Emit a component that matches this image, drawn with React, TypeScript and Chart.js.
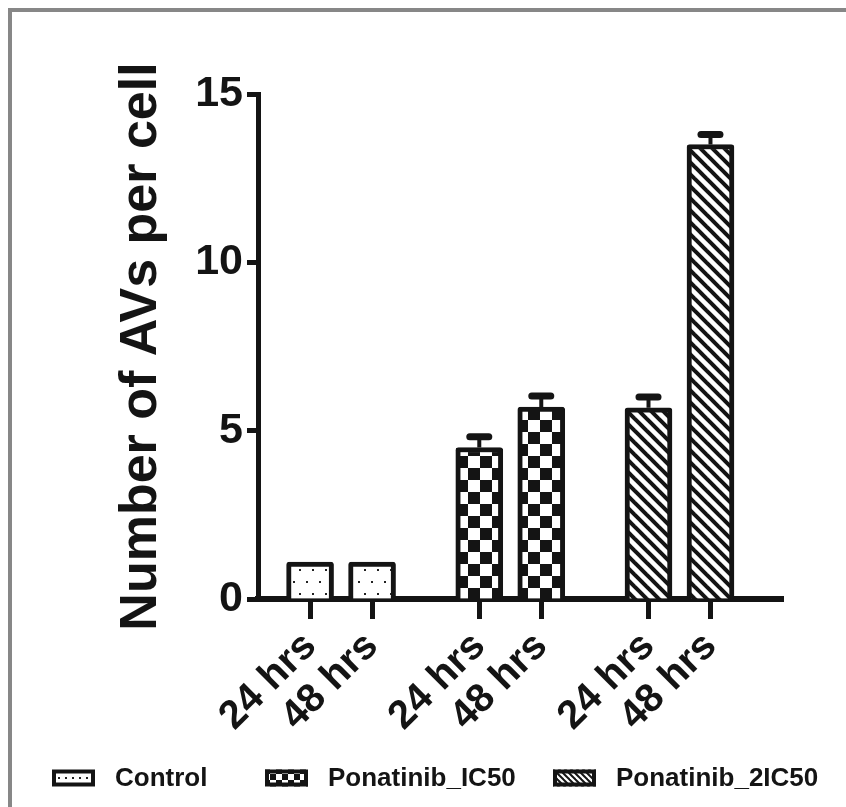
import React, { useEffect, useRef } from "react";
import { Chart, registerables } from "chart.js";

Chart.register(...registerables);

// ---- data ----
const groups = ["Control", "Ponatinib_IC50", "Ponatinib_2IC50"];
const timePoints = ["24 hrs", "48 hrs"];
const controlMeans = [1.1, 1.1];
const ic50Means = [4.5, 5.7];
const twoIc50Means = [5.68, 13.5];
const controlErr = [0, 0];
const ic50Err = [0.32, 0.33];
const twoIc50Err = [0.32, 0.3];
const yTicks = [0, 5, 10, 15];

// ---- layout / style constants ----
const INK = "#141414";
const FONT = "'Liberation Sans', Arial, sans-serif";
const GROUP_STEP = 2.73;
const X_MIN = -0.84;
const X_MAX = 7.63;
const CANVAS_W = 834;
const CANVAS_H = 795;
const AREA_LEFT = 246;
const AREA_TOP = 82;
const AREA_RIGHT = 771;
const AREA_BOTTOM = 587;
const PAD_LEFT = 98;
const PAD_BOTTOM = 60;
const LEGEND_X = [40, 253, 541];
const LEGEND_Y = 766;

const series = [controlMeans, ic50Means, twoIc50Means];
const errors = [controlErr, ic50Err, twoIc50Err];

function makeTile(w: number, h: number, draw: (c: CanvasRenderingContext2D) => void) {
  const cv = document.createElement("canvas");
  cv.width = w;
  cv.height = h;
  const c = cv.getContext("2d")!;
  c.fillStyle = "#ffffff";
  c.fillRect(0, 0, w, h);
  draw(c);
  return cv;
}

function makePatterns(ctx: CanvasRenderingContext2D, scale: number) {
  const dotTile = makeTile(Math.round(13 * scale), Math.round(24 * scale), (c) => {
    c.fillStyle = "#222";
    c.fillRect(1, Math.round(5 * scale), 2, 2);
    c.fillRect(Math.round(7.5 * scale), Math.round(17 * scale), 2, 2);
  });
  const cell = Math.round(12 * scale);
  const checkTile = makeTile(cell * 2, cell * 2, (c) => {
    c.fillStyle = INK;
    c.fillRect(0, 0, cell, cell);
    c.fillRect(cell, cell, cell, cell);
  });
  const p = Math.round(12 * scale);
  const stripeTile = makeTile(p, p, (c) => {
    c.strokeStyle = INK;
    c.lineWidth = 4 * scale;
    for (const k of [-p, 0, p]) {
      c.beginPath();
      c.moveTo(k - 2, -2);
      c.lineTo(k + p + 2, p + 2);
      c.stroke();
    }
  });
  return [
    ctx.createPattern(dotTile, "repeat")!,
    ctx.createPattern(checkTile, "repeat")!,
    ctx.createPattern(stripeTile, "repeat")!,
  ];
}

export default function App() {
  const ref = useRef<HTMLCanvasElement | null>(null);

  useEffect(() => {
    const canvas = ref.current!;
    const ctx = canvas.getContext("2d")!;
    const barPatterns = makePatterns(ctx, 1);
    const legendPatterns = makePatterns(ctx, 0.5);

    const tickPositions: number[] = [];
    groups.forEach((_, gi) => timePoints.forEach((__, ti) => tickPositions.push(gi * GROUP_STEP + ti)));

    const errorBarPlugin = {
      id: "errorBars",
      afterDatasetsDraw(chart: any) {
        const c = chart.ctx as CanvasRenderingContext2D;
        const ys = chart.scales.y;
        chart.data.datasets.forEach((_: any, di: number) => {
          const meta = chart.getDatasetMeta(di);
          meta.data.forEach((bar: any, i: number) => {
            const e = errors[di][i];
            if (!e) return;
            const v = series[di][i];
            const yTop = ys.getPixelForValue(v + e);
            c.save();
            c.strokeStyle = INK;
            c.lineWidth = 4;
            c.beginPath();
            c.moveTo(bar.x, bar.y);
            c.lineTo(bar.x, yTop);
            c.stroke();
            c.lineWidth = 7;
            c.lineCap = "round";
            c.beginPath();
            c.moveTo(bar.x - 9.5, yTop);
            c.lineTo(bar.x + 9.5, yTop);
            c.stroke();
            c.restore();
          });
        });
      },
    };

    const legendPlugin = {
      id: "customLegend",
      afterDraw(chart: any) {
        const c = chart.ctx as CanvasRenderingContext2D;
        c.save();
        groups.forEach((g, gi) => {
          const x = LEGEND_X[gi];
          const bw = 43, bh = 17;
          c.fillStyle = legendPatterns[gi];
          c.fillRect(x, LEGEND_Y - bh / 2, bw, bh);
          c.strokeStyle = INK;
          c.lineWidth = 4;
          c.strokeRect(x + 2, LEGEND_Y - bh / 2 + 2, bw - 4, bh - 4);
          c.fillStyle = INK;
          c.font = `bold 26px ${FONT}`;
          c.textBaseline = "middle";
          c.textAlign = "left";
          c.fillText(g, x + 63, LEGEND_Y + 1);
        });
        c.restore();
      },
    };

    const chart = new Chart(canvas, {
      type: "bar",
      data: {
        datasets: groups.map((g, gi) => ({
          label: g,
          data: series[gi].map((v, ti) => ({ x: gi * GROUP_STEP + ti, y: v })),
          backgroundColor: barPatterns[gi],
          borderColor: INK,
          borderWidth: 5,
          borderSkipped: "start",
          borderRadius: 3,
          barThickness: 47,
          grouped: false,
        })) as any,
      },
      options: {
        responsive: false,
        devicePixelRatio: 1,
        animation: false,
        layout: {
          padding: { left: PAD_LEFT, right: CANVAS_W - AREA_RIGHT, top: AREA_TOP, bottom: PAD_BOTTOM },
        },
        plugins: { legend: { display: false }, tooltip: { enabled: false } },
        scales: {
          x: {
            type: "linear",
            min: X_MIN,
            max: X_MAX,
            offset: false,
            afterBuildTicks: (scale: any) => {
              scale.ticks = tickPositions.map((v) => ({ value: v }));
            },
            afterFit: (scale: any) => {
              scale.height = CANVAS_H - PAD_BOTTOM - AREA_BOTTOM;
            },
            ticks: {
              autoSkip: false,
              maxRotation: 45,
              minRotation: 45,
              padding: 4,
              color: INK,
              font: { family: FONT, size: 40, weight: "bold" },
              callback: (_v: any, i: number) => timePoints[i % timePoints.length],
            },
            grid: {
              display: true,
              drawOnChartArea: false,
              drawTicks: true,
              tickLength: 20,
              tickWidth: 5,
              tickColor: INK,
              offset: false,
            },
            border: { display: true, color: INK, width: 6 },
          },
          y: {
            type: "linear",
            min: yTicks[0],
            max: yTicks[yTicks.length - 1],
            afterBuildTicks: (scale: any) => {
              scale.ticks = yTicks.map((v) => ({ value: v }));
            },
            afterFit: (scale: any) => {
              scale.width = AREA_LEFT - PAD_LEFT;
            },
            ticks: {
              padding: 4,
              color: INK,
              font: { family: FONT, size: 43, weight: "bold" },
            },
            grid: {
              display: true,
              drawOnChartArea: false,
              drawTicks: true,
              tickLength: 11,
              tickWidth: 5,
              tickColor: INK,
            },
            border: { display: true, color: INK, width: 5 },
            title: {
              display: true,
              text: "Number of AVs per cell",
              color: INK,
              padding: 0,
              font: { family: FONT, size: 52, weight: "bold" },
            },
          },
        },
      },
      plugins: [errorBarPlugin, legendPlugin],
    });

    return () => chart.destroy();
  }, []);

  return (
    <div
      style={{
        position: "fixed",
        left: 8,
        top: 8,
        width: CANVAS_W + 4,
        height: CANVAS_H + 4,
        boxSizing: "border-box",
        borderTop: "4px solid #878787",
        borderLeft: "4px solid #878787",
        background: "#ffffff",
      }}
    >
      <canvas ref={ref} width={CANVAS_W} height={CANVAS_H} style={{ display: "block" }} />
    </div>
  );
}
